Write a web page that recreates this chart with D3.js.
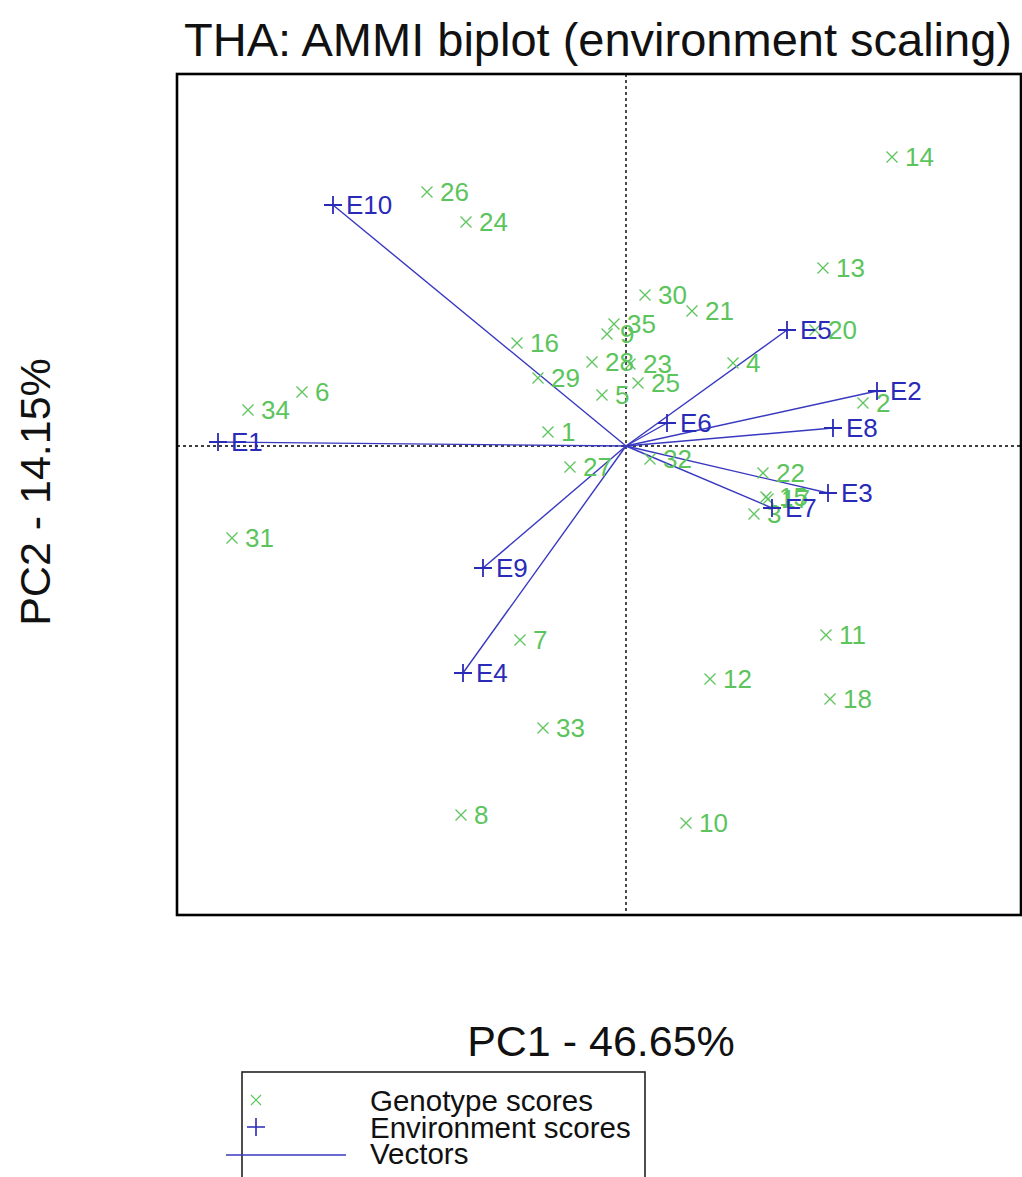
<!DOCTYPE html>
<html>
<head>
<meta charset="utf-8">
<script src="https://cdn.jsdelivr.net/npm/d3@7"></script>
<style>
  html, body { margin: 0; padding: 0; background: #fff; }
  svg { display: block; font-family: "Liberation Sans", Arial, sans-serif; }
</style>
</head>
<body>
<svg id="chart" width="1022" height="1177"></svg>
<script>
// Genotype scores (PC1, PC2)
const genotypes = ["1","2","3","4","5","6","7","8","9","10","11","12","13","14","15","16","17","18",
                   "20","21","22","23","24","25","26","27","28","29","30","31","32","33","34","35"];
const genoPC1 = [-0.78, 2.37, 1.28, 1.07, -0.24, -3.24, -1.06, -1.65, -0.19, 0.60, 2.00, 0.84, 1.97, 2.66, 1.40, -1.09, 1.42, 2.04,
                 1.89, 0.66, 1.37, 0.04, -1.60, 0.12, -1.99, -0.56, -0.34, -0.88, 0.19, -3.94, 0.24, -0.83, -3.78, -0.12];
const genoPC2 = [0.14, 0.43, -0.68, 0.83, 0.51, 0.54, -1.94, -3.69, 1.12, -3.77, -1.89, -2.33, 1.78, 2.89, -0.51, 1.03, -0.53, -2.53,
                 1.16, 1.35, -0.27, 0.82, 2.24, 0.63, 2.54, -0.21, 0.84, 0.68, 1.51, -0.92, -0.13, -2.82, 0.36, 1.22];

// Environment scores (PC1, PC2)
const environments = ["E1","E2","E3","E4","E5","E6","E7","E8","E9","E10"];
const envPC1 = [-4.08, 2.51, 2.02, -1.63, 1.61, 0.41, 1.46, 2.07, -1.43, -2.93];
const envPC2 = [0.04, 0.55, -0.47, -2.27, 1.16, 0.23, -0.62, 0.18, -1.22, 2.41];

const legendLabels = ["Genotype scores", "Environment scores", "Vectors"];

const titleText = "THA: AMMI biplot (environment scaling)";
const xLabel = "PC1 - 46.65%";
const yLabel = "PC2 - 14.15%";

const GREEN = "#5cc45c";
const BLUE = "#2a2ab8";
const VEC = "#3838c0";

const svg = d3.select("#chart");

const plot = { left: 177, top: 74, right: 1021, bottom: 915 };

const x = d3.scaleLinear().domain([-4.49, 3.95]).range([plot.left, plot.right]);
const y = d3.scaleLinear().domain([-4.69, 3.72]).range([plot.bottom, plot.top]);

// Title and axis titles
svg.append("text")
  .attr("x", 598).attr("y", 56)
  .attr("text-anchor", "middle")
  .attr("font-size", 47)
  .attr("fill", "#111")
  .text(titleText);

svg.append("text")
  .attr("x", 601).attr("y", 1056)
  .attr("text-anchor", "middle")
  .attr("font-size", 43)
  .attr("fill", "#111")
  .text(xLabel);

svg.append("text")
  .attr("transform", "translate(50,492) rotate(-90)")
  .attr("text-anchor", "middle")
  .attr("font-size", 43)
  .attr("fill", "#111")
  .text(yLabel);

// Reference lines through the origin
const ref = svg.append("g")
  .attr("stroke", "#000").attr("stroke-width", 1.4)
  .attr("stroke-dasharray", "3,3");
ref.append("line")
  .attr("x1", x(0)).attr("x2", x(0))
  .attr("y1", plot.top).attr("y2", plot.bottom);
ref.append("line")
  .attr("x1", plot.left).attr("x2", plot.right)
  .attr("y1", y(0)).attr("y2", y(0));

const envData = environments.map((n, i) => ({ name: n, pc1: envPC1[i], pc2: envPC2[i] }));
const genoData = genotypes.map((n, i) => ({ name: n, pc1: genoPC1[i], pc2: genoPC2[i] }));

// Environment vectors from the origin
svg.append("g")
  .selectAll("line")
  .data(envData)
  .join("line")
  .attr("x1", x(0)).attr("y1", y(0))
  .attr("x2", d => x(d.pc1)).attr("y2", d => y(d.pc2))
  .attr("stroke", VEC).attr("stroke-width", 1.4);

const cross = s => `M${-s},${-s}L${s},${s}M${-s},${s}L${s},${-s}`;
const plus = s => `M${-s},0L${s},0M0,${-s}L0,${s}`;

// Genotype points (×) with labels
const g = svg.append("g").selectAll("g")
  .data(genoData)
  .join("g")
  .attr("transform", d => `translate(${x(d.pc1)},${y(d.pc2)})`);
g.append("path")
  .attr("d", cross(5.5))
  .attr("stroke", GREEN).attr("stroke-width", 1.3).attr("fill", "none");
g.append("text")
  .attr("x", 13).attr("dy", "0.36em")
  .attr("font-size", 26)
  .attr("fill", GREEN)
  .text(d => d.name);

// Environment points (+) with labels, drawn on top
const e = svg.append("g").selectAll("g")
  .data(envData)
  .join("g")
  .attr("transform", d => `translate(${x(d.pc1)},${y(d.pc2)})`);
e.append("path")
  .attr("d", plus(9))
  .attr("stroke", BLUE).attr("stroke-width", 1.8).attr("fill", "none");
e.append("text")
  .attr("x", 13).attr("dy", "0.36em")
  .attr("font-size", 26)
  .attr("fill", BLUE)
  .text(d => d.name);

// Plot frame
svg.append("rect")
  .attr("x", plot.left).attr("y", plot.top)
  .attr("width", plot.right - plot.left).attr("height", plot.bottom - plot.top)
  .attr("fill", "none").attr("stroke", "#000").attr("stroke-width", 2.6);

// Legend
const lg = svg.append("g");
lg.append("rect")
  .attr("x", 242).attr("y", 1072)
  .attr("width", 403).attr("height", 130)
  .attr("fill", "none").attr("stroke", "#222").attr("stroke-width", 1.6);

const rowY = [1100, 1127, 1153];
lg.append("path")
  .attr("transform", `translate(256,${rowY[0]})`)
  .attr("d", cross(5))
  .attr("stroke", GREEN).attr("stroke-width", 1.2).attr("fill", "none");
lg.append("path")
  .attr("transform", `translate(256,${rowY[1]})`)
  .attr("d", plus(9))
  .attr("stroke", BLUE).attr("stroke-width", 1.6).attr("fill", "none");
lg.append("line")
  .attr("x1", 226).attr("x2", 346)
  .attr("y1", rowY[2] + 2).attr("y2", rowY[2] + 2)
  .attr("stroke", VEC).attr("stroke-width", 1.6);

lg.selectAll("text.lab")
  .data(legendLabels)
  .join("text")
  .attr("class", "lab")
  .attr("x", 370)
  .attr("y", (d, i) => rowY[i])
  .attr("dy", "0.36em")
  .attr("font-size", 29.5)
  .attr("fill", "#111")
  .text(d => d);
</script>
</body>
</html>
